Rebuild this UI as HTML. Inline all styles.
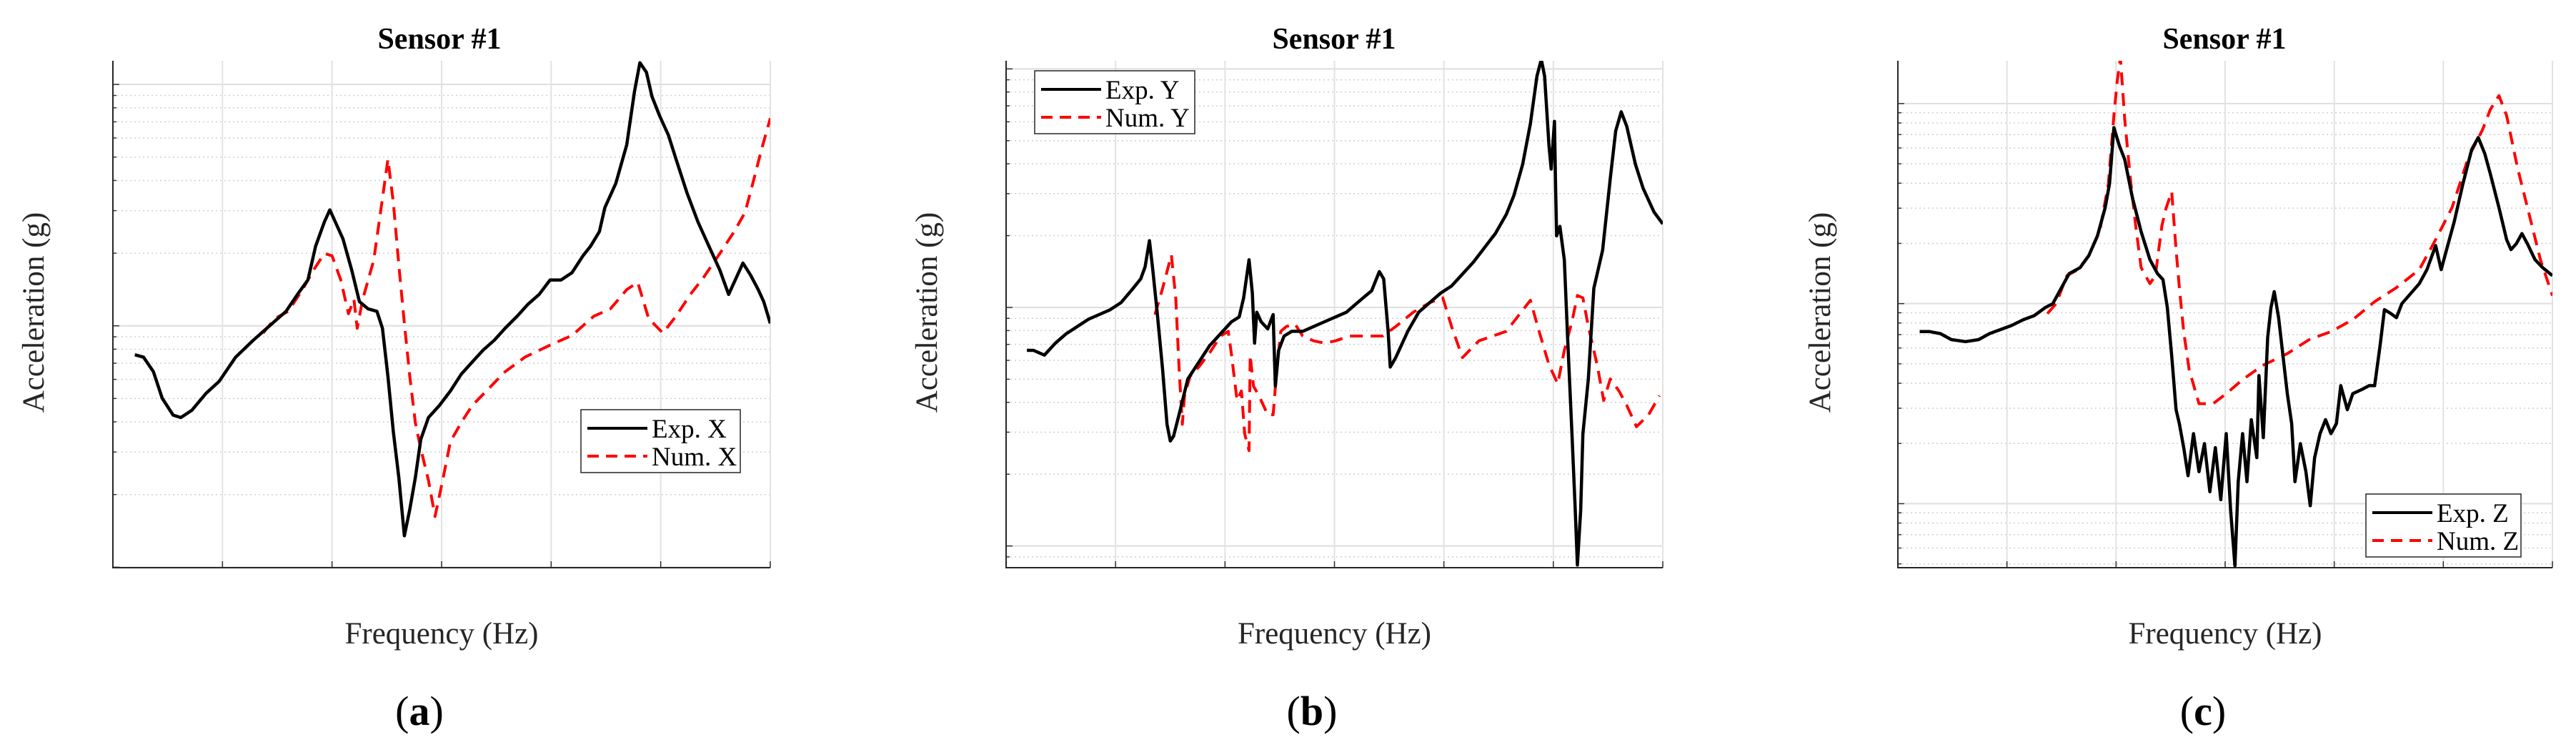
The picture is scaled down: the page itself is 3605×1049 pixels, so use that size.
<!DOCTYPE html>
<html><head><meta charset="utf-8"><style>
html,body{margin:0;padding:0;background:#fff;}
svg{display:block;}
text{font-family:"Liberation Serif",serif;}
</style></head><body>
<svg id="fig" width="3605" height="1049" viewBox="0 0 3605 1049" xmlns="http://www.w3.org/2000/svg"></svg>
<script>
// Frequency in grid divisions (0-6), amplitude as log10(g)
const expXFreq=[0.20,0.28,0.37,0.45,0.55,0.62,0.72,0.85,0.97,1.12,1.28,1.43,1.58,1.70,1.78,1.85,1.93,1.98,2.03,2.10,2.18,2.25,2.33,2.41,2.46,2.51,2.56,2.61,2.66,2.71,2.76,2.81,2.88,2.98,3.08,3.18,3.28,3.38,3.48,3.58,3.69,3.79,3.89,3.99,4.09,4.19,4.29,4.36,4.44,4.49,4.59,4.69,4.76,4.81,4.87,4.92,4.99,5.07,5.14,5.24,5.34,5.44,5.54,5.62,5.69,5.75,5.82,5.89,5.94,6.00];
const expXLog=[-0.12,-0.13,-0.19,-0.30,-0.37,-0.38,-0.35,-0.28,-0.23,-0.13,-0.06,0.00,0.06,0.14,0.19,0.33,0.43,0.48,0.43,0.36,0.23,0.10,0.07,0.06,-0.01,-0.21,-0.44,-0.63,-0.87,-0.76,-0.63,-0.47,-0.38,-0.33,-0.27,-0.20,-0.15,-0.10,-0.06,-0.01,0.04,0.09,0.13,0.19,0.19,0.22,0.29,0.33,0.39,0.49,0.59,0.75,0.97,1.09,1.05,0.95,0.87,0.79,0.69,0.55,0.43,0.33,0.23,0.13,0.20,0.26,0.21,0.15,0.10,0.01];
const numXFreq=[1.37,1.48,1.60,1.73,1.83,1.93,2.00,2.08,2.15,2.20,2.23,2.28,2.38,2.43,2.51,2.56,2.61,2.66,2.71,2.76,2.81,2.88,2.94,3.01,3.08,3.18,3.28,3.43,3.58,3.76,3.99,4.19,4.39,4.54,4.69,4.79,4.89,5.02,5.14,5.27,5.39,5.54,5.67,5.77,5.84,5.92,6.00];
const numXLog=[-0.03,0.03,0.06,0.15,0.23,0.30,0.29,0.19,0.05,0.11,-0.01,0.11,0.27,0.43,0.69,0.51,0.25,0.01,-0.21,-0.40,-0.51,-0.64,-0.79,-0.64,-0.48,-0.40,-0.33,-0.26,-0.19,-0.13,-0.08,-0.04,0.04,0.07,0.15,0.18,0.03,-0.03,0.04,0.13,0.20,0.30,0.39,0.47,0.59,0.73,0.86];

const expYFreq=[0.19,0.25,0.35,0.45,0.55,0.65,0.75,0.85,0.95,1.05,1.16,1.23,1.27,1.31,1.34,1.38,1.43,1.47,1.50,1.53,1.58,1.66,1.76,1.86,1.96,2.06,2.13,2.17,2.22,2.25,2.27,2.29,2.33,2.39,2.44,2.46,2.49,2.54,2.61,2.71,2.81,2.91,3.01,3.11,3.21,3.34,3.41,3.45,3.49,3.51,3.56,3.67,3.77,3.87,3.97,4.07,4.17,4.27,4.37,4.47,4.57,4.64,4.72,4.79,4.85,4.89,4.92,4.96,4.98,5.01,5.02,5.03,5.06,5.10,5.13,5.17,5.20,5.22,5.25,5.27,5.32,5.37,5.45,5.52,5.57,5.62,5.67,5.75,5.82,5.92,6.00];
const expYLog=[-0.18,-0.18,-0.20,-0.15,-0.11,-0.08,-0.05,-0.03,-0.01,0.02,0.08,0.12,0.17,0.28,0.16,-0.02,-0.26,-0.49,-0.56,-0.54,-0.45,-0.30,-0.23,-0.16,-0.11,-0.06,-0.04,0.04,0.20,0.06,-0.15,-0.02,-0.06,-0.09,-0.03,-0.33,-0.18,-0.12,-0.10,-0.10,-0.08,-0.06,-0.04,-0.02,0.02,0.07,0.15,0.12,-0.10,-0.25,-0.21,-0.10,-0.02,0.02,0.06,0.09,0.14,0.19,0.25,0.31,0.39,0.47,0.60,0.77,0.97,1.04,0.97,0.68,0.58,0.78,0.52,0.30,0.34,0.20,-0.12,-0.53,-0.85,-1.08,-0.85,-0.53,-0.30,0.08,0.24,0.54,0.74,0.82,0.76,0.60,0.50,0.40,0.35];
const numYFreq=[1.36,1.43,1.51,1.55,1.58,1.61,1.63,1.68,1.76,1.86,1.96,2.03,2.06,2.11,2.15,2.18,2.22,2.23,2.26,2.31,2.39,2.44,2.47,2.51,2.56,2.64,2.71,2.81,2.91,3.01,3.14,3.26,3.44,3.56,3.72,3.87,3.99,4.07,4.17,4.32,4.57,4.79,4.87,4.96,5.04,5.10,5.17,5.22,5.27,5.32,5.40,5.46,5.52,5.60,5.67,5.76,5.87,5.97];
const numYLog=[-0.03,0.08,0.22,0.04,-0.25,-0.49,-0.37,-0.29,-0.25,-0.19,-0.12,-0.10,-0.20,-0.39,-0.35,-0.53,-0.60,-0.20,-0.33,-0.37,-0.45,-0.45,-0.28,-0.10,-0.08,-0.07,-0.12,-0.14,-0.15,-0.14,-0.12,-0.12,-0.12,-0.08,-0.02,0.02,0.04,-0.08,-0.21,-0.14,-0.10,0.03,-0.10,-0.24,-0.32,-0.18,-0.06,0.05,0.04,-0.08,-0.24,-0.39,-0.30,-0.35,-0.41,-0.50,-0.45,-0.37];

const expZFreq=[0.20,0.29,0.39,0.49,0.62,0.74,0.84,0.94,1.04,1.15,1.25,1.35,1.42,1.50,1.57,1.67,1.75,1.83,1.90,1.94,1.98,2.03,2.08,2.15,2.23,2.31,2.38,2.43,2.47,2.51,2.55,2.58,2.62,2.66,2.71,2.76,2.81,2.86,2.91,2.96,3.01,3.05,3.09,3.12,3.16,3.20,3.24,3.29,3.31,3.35,3.39,3.42,3.45,3.49,3.53,3.57,3.61,3.64,3.69,3.74,3.78,3.82,3.87,3.92,3.97,4.02,4.06,4.12,4.17,4.25,4.32,4.37,4.42,4.46,4.52,4.57,4.62,4.70,4.78,4.85,4.93,4.98,5.03,5.10,5.18,5.26,5.32,5.38,5.43,5.51,5.58,5.62,5.67,5.72,5.77,5.84,5.91,6.00];
const expZLog=[-0.14,-0.14,-0.15,-0.18,-0.19,-0.18,-0.15,-0.13,-0.11,-0.08,-0.06,-0.02,0.00,0.08,0.15,0.18,0.24,0.34,0.48,0.60,0.88,0.79,0.72,0.53,0.36,0.22,0.15,0.12,-0.02,-0.26,-0.53,-0.60,-0.72,-0.86,-0.65,-0.84,-0.70,-0.94,-0.72,-0.98,-0.65,-1.03,-1.31,-0.89,-0.65,-0.89,-0.58,-0.77,-0.36,-0.67,-0.17,-0.02,0.06,-0.07,-0.26,-0.45,-0.60,-0.89,-0.70,-0.84,-1.01,-0.77,-0.65,-0.58,-0.65,-0.60,-0.41,-0.53,-0.45,-0.43,-0.41,-0.41,-0.21,-0.03,-0.05,-0.07,0.00,0.05,0.10,0.17,0.29,0.17,0.27,0.41,0.60,0.77,0.83,0.75,0.65,0.48,0.32,0.27,0.30,0.35,0.30,0.22,0.18,0.14];
const numZFreq=[1.37,1.45,1.55,1.65,1.75,1.85,1.93,1.98,2.01,2.04,2.08,2.13,2.18,2.23,2.31,2.36,2.42,2.46,2.51,2.55,2.58,2.62,2.67,2.76,2.89,3.01,3.16,3.34,3.57,3.77,3.97,4.17,4.37,4.57,4.78,4.93,5.08,5.23,5.36,5.43,5.51,5.58,5.68,5.79,5.89,6.00];
const numZLog=[-0.05,0.00,0.14,0.17,0.24,0.36,0.60,0.94,1.11,1.23,0.92,0.63,0.39,0.18,0.10,0.14,0.39,0.48,0.56,0.27,0.08,-0.14,-0.33,-0.50,-0.50,-0.45,-0.38,-0.31,-0.25,-0.18,-0.14,-0.08,0.01,0.08,0.17,0.32,0.48,0.73,0.87,0.97,1.04,0.94,0.68,0.44,0.22,0.04];

const NS="http://www.w3.org/2000/svg";
const svg=document.getElementById('fig');
function mk(tag,attrs,parent){const e=document.createElementNS(NS,tag);for(const k in attrs)e.setAttribute(k,attrs[k]);(parent||svg).appendChild(e);return e;}

const panels=[
 {id:'a',x0:158,x1:1078,y0:85,y1:794,lmin:-1.002,lmax:1.098,ylab:46,title:615,lab:587,legend:[813,573],leg:['Exp. X','Num. X'],ef:expXFreq,el:expXLog,nf:numXFreq,nl:numXLog},
 {id:'b',x0:1408,x1:2327,y0:85,y1:794,lmin:-1.091,lmax:1.034,ylab:1296,title:1867,lab:1836,legend:[1448,99],leg:['Exp. Y','Num. Y'],ef:expYFreq,el:expYLog,nf:numYFreq,nl:numYLog},
 {id:'c',x0:2656,x1:3572,y0:85,y1:794,lmin:-1.320,lmax:1.214,ylab:2546,title:3113,lab:3083,legend:[3311,691],leg:['Exp. Z','Num. Z'],ef:expZFreq,el:expZLog,nf:numZFreq,nl:numZLog}
];

panels.forEach(p=>{
 const g=mk('g',{});
 
 
 const X=f=>p.x0+(p.x1-p.x0)*f/6;
 const Y=l=>p.y1-(p.y1-p.y0)*(l-p.lmin)/(p.lmax-p.lmin);
 const clipId='clip'+p.id;
 const cp=mk('clipPath',{id:clipId},g);
 mk('rect',{x:p.x0,y:p.y0,width:p.x1-p.x0,height:p.y1-p.y0},cp);
 const grid=mk('g',{},g);
 
 
 for(let d=Math.floor(p.lmin);d<=Math.ceil(p.lmax);d++){
  for(let m=1;m<=9;m++){
   const l=d+Math.log10(m);
   if(l<p.lmin||l>p.lmax)continue;
   const y=Y(l);
   if(m===1){
    mk('line',{x1:p.x0,x2:p.x1,y1:y,y2:y,stroke:'#dedede','stroke-width':2},grid);
    mk('line',{x1:p.x0,x2:p.x0+9,y1:y,y2:y,stroke:'#333','stroke-width':1.5},grid);
   }else{
    mk('line',{x1:p.x0,x2:p.x1,y1:y,y2:y,stroke:'#cfcfcf','stroke-width':1.5,'stroke-dasharray':'2 4'},grid);
    mk('line',{x1:p.x0,x2:p.x0+5,y1:y,y2:y,stroke:'#333','stroke-width':1.5},grid);
   }
  }
 }
 for(let i=1;i<=6;i++){
  const x=X(i);
  mk('line',{x1:x,x2:x,y1:p.y0,y2:p.y1,stroke:'#e2e2e2','stroke-width':2},grid);
  mk('line',{x1:x,x2:x,y1:p.y1,y2:p.y1-9,stroke:'#333','stroke-width':1.5},grid);
 }
 const ax=mk('path',{d:`M${p.x0},${p.y0} V${p.y1} H${p.x1}`,fill:'none',stroke:'#262626','stroke-width':2},g);
 
 
 const pts=(fs,ls)=>fs.map((f,i)=>X(f).toFixed(1)+','+Y(ls[i]).toFixed(1)).join(' ');
 const ser=mk('g',{'clip-path':`url(#${clipId})`},g);
 const num=mk('polyline',{points:pts(p.nf,p.nl),fill:'none',stroke:'#ff0000','stroke-width':4,'stroke-dasharray':'18 11','stroke-linejoin':'round'},ser);
 
 
 const ex=mk('polyline',{points:pts(p.ef,p.el),fill:'none',stroke:'#000','stroke-width':4.5,'stroke-linejoin':'round'},ser);
 
 
 const t=mk('text',{x:p.title,y:68,'text-anchor':'middle','font-size':42,'font-weight':'bold'},g);
 t.textContent='Sensor #1';
 
 
 const yl=mk('text',{x:0,y:0,'text-anchor':'middle','font-size':43,fill:'#262626',transform:`translate(${p.ylab+15},437) rotate(-90)`},g);
 yl.textContent='Acceleration (g)';
 
 
 const xl=mk('text',{x:(p.x0+p.x1)/2,y:900,'text-anchor':'middle','font-size':43,fill:'#262626'},g);
 xl.textContent='Frequency (Hz)';
 
 
 const pl=mk('text',{x:p.lab,y:1014,'text-anchor':'middle','font-size':58},g);
 pl.innerHTML='(<tspan font-weight="bold">'+p.id+'</tspan>)';
 
 
 const [lx,ly]=p.legend;
 const lg=mk('g',{},g);
 
 
 mk('rect',{x:lx,y:ly,width:p.id==='b'?224:(p.id==='a'?223:217),height:88,fill:'#fff',stroke:'#262626','stroke-width':1.5},lg);
 mk('line',{x1:lx+9,x2:lx+93,y1:ly+26,y2:ly+26,stroke:'#000','stroke-width':4},lg);
 mk('line',{x1:lx+9,x2:lx+93,y1:ly+65,y2:ly+65,stroke:'#ff0000','stroke-width':4,'stroke-dasharray':'16 10'},lg);
 const l1=mk('text',{x:lx+99,y:ly+39,'font-size':37},lg);l1.textContent=p.leg[0];
 
 
 const l2=mk('text',{x:lx+99,y:ly+78,'font-size':37},lg);l2.textContent=p.leg[1];
 
 
});
</script>
</body></html>
